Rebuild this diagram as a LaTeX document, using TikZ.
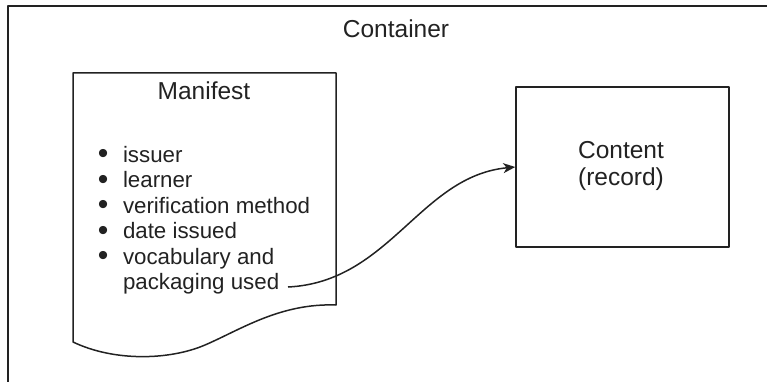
\documentclass[tikz,border=0pt]{standalone}
\usepackage{fontspec}
\setmainfont{Liberation Sans}
\usetikzlibrary{arrows.meta}
\definecolor{ink}{HTML}{222222}
\newcommand{\bigbul}{\makebox[7.8pt]{\raisebox{-1.6pt}{\scalebox{1.35}{\textbullet}}}}
\tikzset{
  outline/.style={draw=ink, line width=1.5pt, line join=round},
  title/.style={font=\fontsize{24.5}{27}\selectfont, text=ink, inner sep=0pt},
  listtext/.style={font=\fontsize{22.3}{25.5}\selectfont, text=ink, inner sep=0pt},
  link/.style={draw=ink, line width=1.5pt, -{Stealth[length=12pt,width=10pt,inset=3.5pt]}},
}
\begin{document}
\begin{tikzpicture}[x=1pt,y=-1pt]
\useasboundingbox (0,0) rectangle (767,382);
% container (right and bottom edges lie outside the picture)
\begin{scope}
  \clip (0,0) rectangle (767,382);
  \draw[outline] (8,6) rectangle (800,420);
\end{scope}
\node[title, anchor=base] (containerlabel) at (396,38) {Container};

% manifest document shape
\draw[outline] (73,73) -- (336,73) -- (336,305)
  .. controls (280,303) and (240,330) .. (205,345)
  .. controls (170,360) and (115,362) .. (73,342) -- cycle;
\node[title, anchor=base] (manifestlabel) at (204,100) {Manifest};
\node[listtext, anchor=base west] (list) at (99,162) {%
  \begin{tabular}[t]{@{}l@{\hspace{16pt}}l@{}}
  \bigbul & issuer\\
  \bigbul & learner\\
  \bigbul & verification method\\
  \bigbul & date issued\\
  \bigbul & vocabulary and\\
          & packaging used
  \end{tabular}};
\coordinate (pk) at (288,287);

% content box
\node[outline, minimum width=213pt, minimum height=160pt, inner sep=0pt] (content) at (622.5,167) {};
\node[title, anchor=base, align=center] (contentlabel) at (621,185) {Content\\(record)};

% connector
\draw[link] (pk) .. controls (390,282) and (420,176) .. (content.west);
\end{tikzpicture}
\end{document}
